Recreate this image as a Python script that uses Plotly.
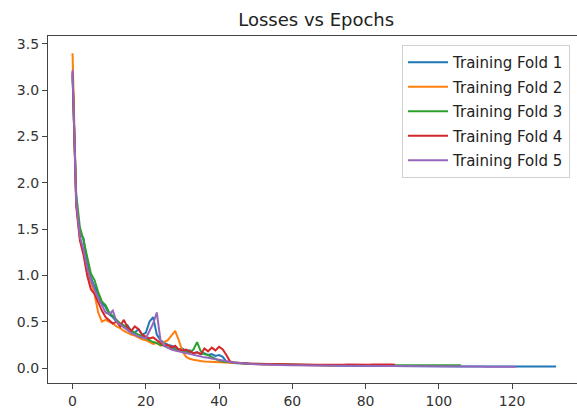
import plotly.graph_objects as go

title = "Losses vs Epochs"
series_names = ["Training Fold 1", "Training Fold 2", "Training Fold 3", "Training Fold 4", "Training Fold 5"]
colors = ["#1f77b4", "#ff7f0e", "#2ca02c", "#d62728", "#9467bd"]
x_ticks = [0, 20, 40, 60, 80, 100, 120]
y_ticks = [0.0, 0.5, 1.0, 1.5, 2.0, 2.5, 3.0, 3.5]

fold1 = [
    3.18, 1.82, 1.45, 1.40, 1.12, 0.98, 0.88, 0.80, 0.70, 0.66,
    0.58, 0.55, 0.50, 0.48, 0.44, 0.46, 0.40, 0.38, 0.42, 0.36,
    0.38, 0.50, 0.55, 0.36, 0.30, 0.27, 0.25, 0.24, 0.22, 0.20,
    0.21, 0.18, 0.19, 0.16, 0.17, 0.15, 0.16, 0.14, 0.15, 0.13,
    0.14, 0.12, 0.07, 0.06, 0.055, 0.05, 0.05, 0.048, 0.045, 0.044,
    0.043, 0.042, 0.040, 0.041, 0.039, 0.038, 0.037, 0.038, 0.036, 0.035,
    0.035, 0.034, 0.033, 0.034, 0.032, 0.031, 0.031, 0.030, 0.030, 0.029,
    0.029, 0.028, 0.028, 0.027, 0.027, 0.026, 0.026, 0.025, 0.025, 0.025,
    0.024, 0.024, 0.023, 0.023, 0.023, 0.022, 0.022, 0.022, 0.021, 0.021,
    0.021, 0.020, 0.020, 0.020, 0.020, 0.019, 0.019, 0.019, 0.019, 0.018,
    0.018, 0.018, 0.018, 0.017, 0.017, 0.017, 0.017, 0.017, 0.016, 0.016,
    0.016, 0.016, 0.016, 0.015, 0.015, 0.015, 0.015, 0.015, 0.015, 0.014,
    0.014, 0.016, 0.015, 0.017, 0.014, 0.016, 0.018, 0.015, 0.017, 0.016,
    0.015, 0.017, 0.016,
]

fold2 = [
    3.40, 1.78, 1.40, 1.25, 1.05, 0.92, 0.80, 0.60, 0.50, 0.52,
    0.50, 0.48, 0.45, 0.43, 0.40, 0.38, 0.36, 0.35, 0.33, 0.31,
    0.30, 0.28, 0.26, 0.27, 0.24, 0.28, 0.30, 0.35, 0.40, 0.30,
    0.18, 0.12, 0.10, 0.09, 0.08, 0.075, 0.07, 0.068, 0.065, 0.06,
    0.058, 0.055, 0.052, 0.050, 0.048, 0.046, 0.045, 0.044, 0.043, 0.042,
    0.041, 0.040, 0.039, 0.038, 0.037, 0.036, 0.036, 0.035, 0.034, 0.034,
    0.033, 0.033, 0.032, 0.032, 0.031, 0.031, 0.030, 0.030, 0.030, 0.029,
    0.029, 0.028,
]

fold3 = [
    3.15, 1.88, 1.52, 1.38, 1.20, 1.02, 0.95, 0.82, 0.72, 0.68,
    0.60, 0.56, 0.53, 0.48, 0.46, 0.43, 0.41, 0.38, 0.36, 0.34,
    0.32, 0.30, 0.28, 0.27, 0.25, 0.24, 0.22, 0.21, 0.20, 0.19,
    0.18, 0.17, 0.17, 0.20, 0.28, 0.18, 0.15, 0.14, 0.12, 0.10,
    0.08, 0.07, 0.065, 0.06, 0.055, 0.052, 0.050, 0.048, 0.046, 0.045,
    0.044, 0.043, 0.042, 0.041, 0.040, 0.039, 0.038, 0.037, 0.037, 0.036,
    0.035, 0.035, 0.034, 0.034, 0.033, 0.033, 0.032, 0.032, 0.031, 0.031,
    0.030, 0.030, 0.030, 0.030, 0.031, 0.030, 0.031, 0.030, 0.031, 0.030,
    0.031, 0.030, 0.031, 0.032, 0.030, 0.031, 0.032, 0.030, 0.031, 0.032,
    0.031, 0.030, 0.032, 0.031, 0.030, 0.032, 0.031, 0.030, 0.031, 0.032,
    0.030, 0.031, 0.030, 0.032, 0.031, 0.030, 0.031,
]

fold4 = [
    3.20, 1.75, 1.38, 1.22, 1.00, 0.85, 0.80, 0.70, 0.62, 0.55,
    0.52, 0.48, 0.50, 0.45, 0.52, 0.44, 0.40, 0.45, 0.42, 0.36,
    0.34, 0.32, 0.33, 0.30, 0.26, 0.24, 0.25, 0.22, 0.24, 0.20,
    0.19, 0.20, 0.18, 0.16, 0.17, 0.15, 0.21, 0.18, 0.22, 0.19,
    0.23, 0.20, 0.14, 0.07, 0.06, 0.055, 0.052, 0.050, 0.048, 0.046,
    0.045, 0.044, 0.043, 0.042, 0.041, 0.040, 0.040, 0.039, 0.038, 0.038,
    0.037, 0.037, 0.036, 0.036, 0.036, 0.035, 0.035, 0.035, 0.034, 0.034,
    0.034, 0.035, 0.034, 0.036, 0.035, 0.037, 0.036, 0.038, 0.036, 0.037,
    0.038, 0.036, 0.039, 0.037, 0.038, 0.036, 0.037, 0.038, 0.036,
]

fold5 = [
    3.22, 1.80, 1.42, 1.28, 1.08, 0.95, 0.85, 0.75, 0.68, 0.60,
    0.58, 0.62, 0.50, 0.47, 0.44, 0.42, 0.38, 0.36, 0.34, 0.33,
    0.32, 0.40, 0.48, 0.60, 0.30, 0.24, 0.22, 0.20, 0.19, 0.18,
    0.17, 0.16, 0.15, 0.14, 0.13, 0.12, 0.115, 0.11, 0.10, 0.095,
    0.09, 0.08, 0.07, 0.065, 0.06, 0.055, 0.050, 0.048, 0.045, 0.043,
    0.041, 0.039, 0.037, 0.036, 0.035, 0.034, 0.033, 0.032, 0.031, 0.030,
    0.030, 0.029, 0.028, 0.028, 0.027, 0.027, 0.026, 0.026, 0.025, 0.025,
    0.024, 0.024, 0.024, 0.023, 0.023, 0.023, 0.022, 0.022, 0.022, 0.021,
    0.021, 0.021, 0.020, 0.020, 0.020, 0.020, 0.019, 0.019, 0.019, 0.019,
    0.018, 0.018, 0.018, 0.018, 0.018, 0.017, 0.017, 0.017, 0.017, 0.017,
    0.016, 0.016, 0.016, 0.016, 0.016, 0.016, 0.015, 0.015, 0.015, 0.015,
    0.015, 0.015, 0.015, 0.014, 0.014, 0.014, 0.014, 0.014, 0.014, 0.014,
    0.014, 0.014,
]

folds = [fold1, fold2, fold3, fold4, fold5]

fig = go.Figure()
for name, color, vals in zip(series_names, colors, folds):
    fig.add_trace(go.Scatter(
        x=list(range(len(vals))), y=vals, mode="lines", name=name,
        legendgroup=name, line=dict(color=color, width=2),
    ))

axis_common = dict(
    showgrid=False, zeroline=False, showline=True, linecolor="#444", linewidth=1.3,
    ticks="outside", ticklen=5, tickwidth=1.2, tickcolor="#444", automargin=False,
    tickfont=dict(family="DejaVu Sans", size=14, color="#333"),
)

fig.update_layout(
    width=577, height=412,
    margin=dict(l=48, r=0, t=36, b=29, autoexpand=False),
    paper_bgcolor="white", plot_bgcolor="white",
    title=dict(text=title, x=0.548, xref="container", xanchor="center",
               y=1 - 20 / 412, yref="container", yanchor="middle",
               automargin=False,
               font=dict(family="DejaVu Sans", size=18, color="#222")),
    legend=dict(x=(402 - 48) / 529, y=1 - (45 - 36) / 347, xanchor="left", yanchor="top",
                bordercolor="#d0d0d0", borderwidth=1, bgcolor="rgba(255,255,255,0.8)",
                font=dict(family="DejaVu Sans", size=15, color="#222"),
                itemwidth=40,
                traceorder="grouped", tracegroupgap=2),
    xaxis=dict(range=[-6.7, 137.7], tickvals=x_ticks, mirror=True, **axis_common),
    yaxis=dict(range=[-0.162, 3.586], tickvals=y_ticks, tickformat=".1f", **axis_common),
)

fig.write_html("out.html", config={"displayModeBar": False},
               post_script="document.body.style.margin='0px';")
